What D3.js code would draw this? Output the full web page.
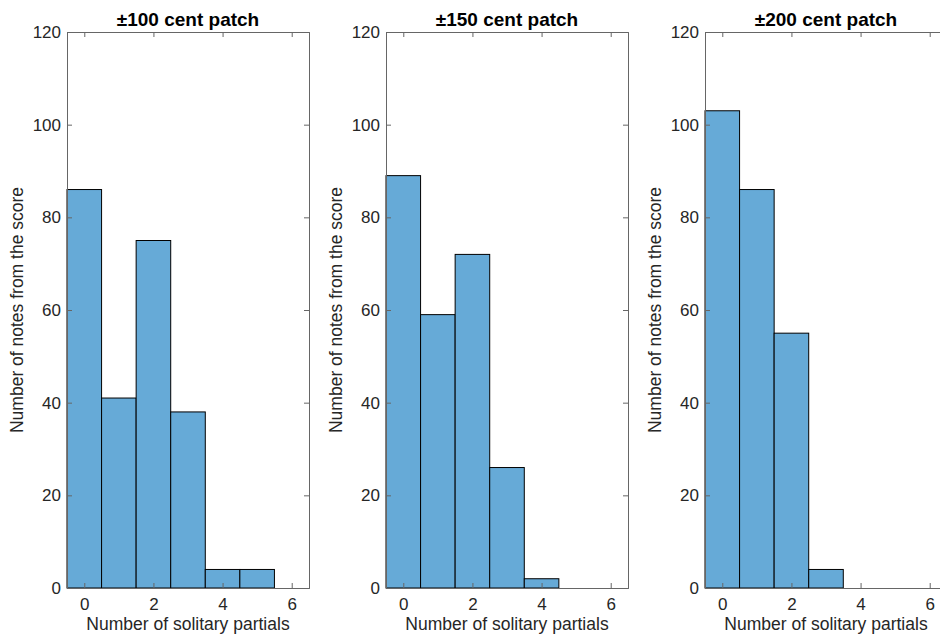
<!DOCTYPE html>
<html>
<head>
<meta charset="utf-8">
<script src="https://cdn.jsdelivr.net/npm/d3@7"></script>
<style>
  body { margin: 0; background: #fff; }
  svg text { font-family: "Helvetica Neue", Helvetica, "Liberation Sans", Arial, sans-serif; }
</style>
</head>
<body>
<svg id="chart" width="940" height="635"></svg>
<script>
// histogram counts per bin (bins centred on 0,1,2,...)
const titles = ["\u00b1100 cent patch", "\u00b1150 cent patch", "\u00b1200 cent patch"];
const counts100 = [86, 41, 75, 38, 4, 4];
const counts150 = [89, 59, 72, 26, 2];
const counts200 = [103, 86, 55, 4];
const xTicks = [0, 2, 4, 6];
const yTicks = [0, 20, 40, 60, 80, 100, 120];
const xLabel = "Number of solitary partials";
const yLabel = "Number of notes from the score";

const allCounts = [counts100, counts150, counts200];

const svg = d3.select("#chart");
const panelW = 242, plotTop = 32, plotBottom = 588;
const lefts = [67, 386, 705];
const axisColor = "#262626";
const lineColor = "#666";
const barFill = "#66aad7";

allCounts.forEach((counts, i) => {
  const left = lefts[i];
  const x = d3.scaleLinear().domain([-0.5, 6.5]).range([left, left + panelW]);
  const y = d3.scaleLinear().domain([0, 120]).range([plotBottom, plotTop]);

  const g = svg.append("g");

  g.selectAll("rect.bar")
    .data(counts)
    .enter()
    .append("rect")
    .attr("class", "bar")
    .attr("x", (d, k) => x(k - 0.5))
    .attr("y", d => y(d))
    .attr("width", (d, k) => x(k + 0.5) - x(k - 0.5))
    .attr("height", d => y(0) - y(d))
    .attr("fill", barFill)
    .attr("stroke", "#000")
    .attr("stroke-width", 1);

  const fmt = d3.format("d");
  const tl = 5;

  // bottom / top
  g.append("g")
    .attr("transform", `translate(0,${plotBottom})`)
    .call(d3.axisBottom(x).tickValues(xTicks).tickSize(-tl).tickPadding(10).tickFormat(fmt));
  g.append("g")
    .attr("transform", `translate(0,${plotTop})`)
    .call(d3.axisTop(x).tickValues(xTicks).tickSize(-tl).tickFormat(""));
  // left / right
  g.append("g")
    .attr("transform", `translate(${left},0)`)
    .call(d3.axisLeft(y).tickValues(yTicks).tickSize(-tl).tickPadding(6).tickFormat(fmt));
  g.append("g")
    .attr("transform", `translate(${left + panelW},0)`)
    .call(d3.axisRight(y).tickValues(yTicks).tickSize(-tl).tickFormat(""));

  g.selectAll(".domain").attr("stroke", lineColor).attr("stroke-width", 1);
  g.selectAll(".tick line").attr("stroke", lineColor);
  g.selectAll(".tick text").attr("fill", axisColor).style("font-size", "17px");

  g.append("text")
    .attr("x", left + panelW / 2)
    .attr("y", 26)
    .attr("text-anchor", "middle")
    .style("font-size", "19px")
    .style("font-weight", "bold")
    .attr("fill", "#000")
    .text(titles[i]);

  g.append("text")
    .attr("x", left + panelW / 2)
    .attr("y", 630)
    .attr("text-anchor", "middle")
    .style("font-size", "17.5px")
    .attr("fill", axisColor)
    .text(xLabel);

  g.append("text")
    .attr("transform", `translate(${left - 44},${(plotTop + plotBottom) / 2}) rotate(-90)`)
    .attr("text-anchor", "middle")
    .style("font-size", "17.5px")
    .attr("fill", axisColor)
    .text(yLabel);
});
</script>
</body>
</html>
